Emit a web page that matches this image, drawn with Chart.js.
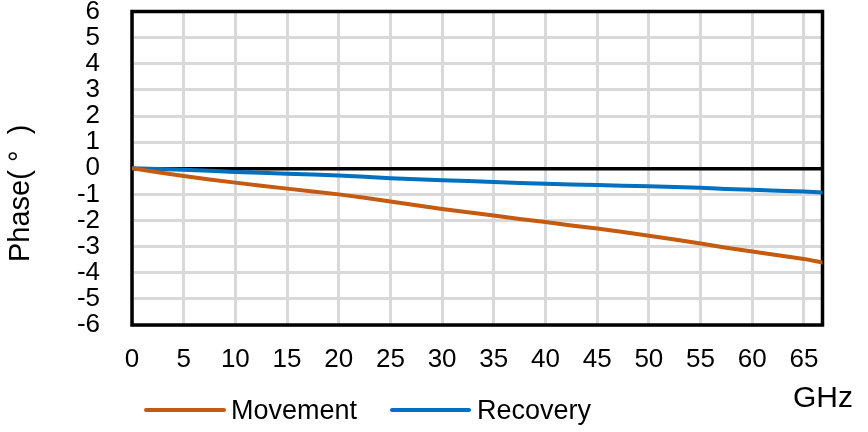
<!DOCTYPE html>
<html>
<head>
<meta charset="utf-8">
<script src="https://cdn.jsdelivr.net/npm/chart.js@4/dist/chart.umd.min.js"></script>
<style>
  html, body { margin: 0; padding: 0; background: #fff; }
  #wrap { width: 868px; height: 432px; }
</style>
</head>
<body>
<div id="wrap"><canvas id="c" width="868" height="432"></canvas></div>
<script>
// ---- data ----
const freqGHz = [0, 2.5, 5, 7.5, 10, 12.5, 15, 17.5, 20, 22.5, 25, 27.5, 30, 32.5, 35, 37.5, 40, 42.5, 45, 47.5, 50, 52.5, 55, 57.5, 60, 62.5, 65, 66.8];
const movement = [0, -0.15, -0.30, -0.43, -0.55, -0.67, -0.78, -0.89, -1.00, -1.13, -1.27, -1.42, -1.56, -1.68, -1.81, -1.94, -2.06, -2.19, -2.31, -2.44, -2.58, -2.73, -2.88, -3.04, -3.19, -3.33, -3.47, -3.61];
const recovery = [0, -0.03, -0.06, -0.10, -0.14, -0.17, -0.21, -0.24, -0.28, -0.33, -0.38, -0.42, -0.46, -0.49, -0.53, -0.56, -0.59, -0.62, -0.64, -0.67, -0.69, -0.72, -0.75, -0.79, -0.82, -0.86, -0.89, -0.93];
const seriesNames = ['Movement', 'Recovery'];
const xTitle = 'GHz';
const yTitle = 'Phase( °  )';
const yMin = -6, yMax = 6, yStep = 1;
const xMin = 0, xMax = 66.8, xStep = 5;

const colors = ['#C55A11', '#0070C0'];
const FONT = '"Liberation Sans", Arial, sans-serif';

function toPoints(xs, ys) { return xs.map((x, i) => ({ x: x, y: ys[i] })); }

const framePlugin = {
  id: 'frame',
  beforeDatasetsDraw(chart) {
    const { ctx, chartArea: a } = chart;
    ctx.save();
    ctx.strokeStyle = '#000';
    ctx.lineWidth = 3.5;
    ctx.strokeRect(a.left, a.top, a.right - a.left, a.bottom - a.top);
    ctx.restore();
  },
  afterDraw(chart) {
    const { ctx } = chart;
    ctx.save();
    ctx.fillStyle = '#000';
    // y title
    ctx.translate(29, 262);
    ctx.rotate(-Math.PI / 2);
    ctx.font = '29px ' + FONT;
    ctx.textAlign = 'left';
    ctx.textBaseline = 'alphabetic';
    ctx.fillText(yTitle, 0, 0);
    ctx.restore();

    // x title
    ctx.save();
    ctx.fillStyle = '#000';
    ctx.font = '30px ' + FONT;
    ctx.textAlign = 'left';
    ctx.textBaseline = 'alphabetic';
    ctx.fillText(xTitle, 793, 407);
    ctx.restore();

    // legend
    const items = [
      { x1: 146, x2: 224, tx: 231 },
      { x1: 392, x2: 469, tx: 477 }
    ];
    ctx.save();
    chart.data.datasets.forEach((ds, i) => {
      const it = items[i];
      ctx.strokeStyle = ds.borderColor;
      ctx.lineWidth = 4;
      ctx.lineCap = 'round';
      ctx.beginPath();
      ctx.moveTo(it.x1, 410);
      ctx.lineTo(it.x2, 410);
      ctx.stroke();
      ctx.fillStyle = '#000';
      ctx.font = '27px ' + FONT;
      ctx.textAlign = 'left';
      ctx.textBaseline = 'alphabetic';
      ctx.fillText(ds.label, it.tx, 419);
    });
    ctx.restore();
  }
};

new Chart(document.getElementById('c'), {
  type: 'line',
  data: {
    datasets: [
      { label: seriesNames[0], data: toPoints(freqGHz, movement), borderColor: colors[0], backgroundColor: colors[0], borderWidth: 4, pointRadius: 0, tension: 0, borderCapStyle: 'round', borderJoinStyle: 'round' },
      { label: seriesNames[1], data: toPoints(freqGHz, recovery), borderColor: colors[1], backgroundColor: colors[1], borderWidth: 4, pointRadius: 0, tension: 0, borderCapStyle: 'round', borderJoinStyle: 'round' }
    ]
  },
  options: {
    responsive: false,
    devicePixelRatio: 1,
    animation: false,
    layout: { padding: { top: 11.5, right: 45.5, left: 0, bottom: 0 } },
    plugins: { legend: { display: false }, tooltip: { enabled: false } },
    scales: {
      x: {
        type: 'linear',
        min: xMin, max: xMax,
        border: { display: false },
        grid: { color: '#D9D9D9', lineWidth: 3, drawTicks: false },
        ticks: { stepSize: xStep, includeBounds: false, autoSkip: false, padding: 19, color: '#000', font: { family: FONT, size: 26 }, maxRotation: 0 },
        afterFit(s) { s.height = 107; s.paddingLeft = 0; s.paddingRight = 0; }
      },
      y: {
        min: yMin, max: yMax,
        border: { display: false },
        grid: {
          color: (c) => (c.tick && c.tick.value === 0 ? '#000' : '#D9D9D9'),
          lineWidth: (c) => (c.tick && c.tick.value === 0 ? 3.5 : 3),
          drawTicks: false
        },
        ticks: { stepSize: yStep, autoSkip: false, padding: 32, color: '#000', font: { family: FONT, size: 26 } },
        afterFit(s) { s.width = 132; s.paddingTop = 0; s.paddingBottom = 0; }
      }
    }
  },
  plugins: [framePlugin]
});
</script>
</body>
</html>
